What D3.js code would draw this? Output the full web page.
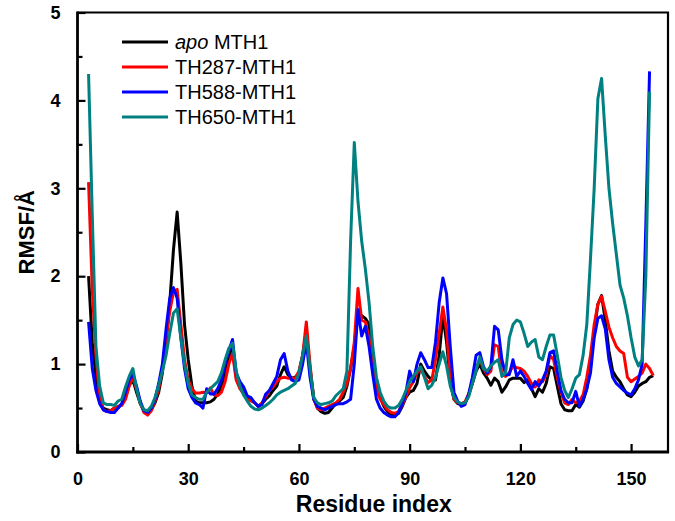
<!DOCTYPE html>
<html>
<head>
<meta charset="utf-8">
<script src="https://cdn.jsdelivr.net/npm/d3@7"></script>
<style>
  html, body { margin: 0; padding: 0; background: #fff; }
  svg { display: block; }
</style>
</head>
<body>
<svg id="chart" width="675" height="521"></svg>
<script>
// ---- data ----
const seriesNames = ["apo MTH1", "TH287-MTH1", "TH588-MTH1", "TH650-MTH1"];
const seriesColors = ["#000000", "#ff0000", "#0000ff", "#008080"];
const firstResidue = 3;

const apoMTH1 = [
  2.0, 1.25, 0.85, 0.58, 0.5, 0.48, 0.47, 0.5, 0.5, 0.55,
  0.62, 0.76, 0.82, 0.68, 0.55, 0.47, 0.45, 0.48, 0.56, 0.68,
  0.9, 1.25, 1.7, 2.3, 2.73, 2.15, 1.45, 1.05, 0.75, 0.58,
  0.56, 0.56, 0.56, 0.57, 0.6, 0.66, 0.75, 0.9, 1.05, 1.18,
  0.85, 0.75, 0.7, 0.62, 0.6, 0.56, 0.52, 0.55, 0.6, 0.64,
  0.7, 0.75, 0.88, 0.97, 0.88, 0.84, 0.85, 0.9, 1.1, 1.35,
  0.95, 0.62, 0.5, 0.46, 0.44, 0.45, 0.5, 0.55, 0.58, 0.62,
  0.75, 0.95, 1.2, 1.6, 1.55, 1.52, 1.45, 1.05, 0.78, 0.62,
  0.52, 0.46, 0.43, 0.42, 0.44, 0.52, 0.62, 0.68, 0.7, 0.78,
  1.0, 0.92, 0.86, 0.82, 0.82, 1.1, 1.55, 1.25, 0.8, 0.6,
  0.55, 0.54, 0.56, 0.65, 0.78, 0.92, 1.0, 0.9, 0.84, 0.76,
  0.84, 0.8, 0.68, 0.74, 0.82, 0.84, 0.84, 0.84, 0.79, 0.82,
  0.72, 0.63, 0.72, 0.68, 0.78, 0.97, 0.95, 0.75, 0.55, 0.48,
  0.47, 0.47, 0.54, 0.51, 0.58, 0.72, 1.0, 1.38, 1.68, 1.78,
  1.5, 1.15, 0.92, 0.85, 0.8, 0.72, 0.65, 0.63, 0.68, 0.75,
  0.78, 0.8, 0.85, 0.87
];

const th287 = [
  3.07, 1.85, 1.1, 0.62, 0.48, 0.46, 0.47, 0.5, 0.52, 0.53,
  0.6, 0.75, 0.85, 0.72, 0.56, 0.45, 0.42, 0.47, 0.58, 0.72,
  0.95, 1.3, 1.6, 1.82, 1.85, 1.45, 1.05, 0.82, 0.72, 0.67,
  0.67, 0.68, 0.67, 0.73, 0.65, 0.64, 0.68, 0.8, 1.0, 1.12,
  0.82, 0.72, 0.66, 0.6, 0.58, 0.56, 0.52, 0.56, 0.63, 0.7,
  0.74, 0.8, 0.84, 0.85, 0.84, 0.84, 0.84, 0.92, 1.1, 1.48,
  1.0, 0.6, 0.5, 0.48, 0.5, 0.52, 0.54, 0.56, 0.6, 0.68,
  0.78, 0.95, 1.25, 1.86, 1.5, 1.48, 1.3, 0.95, 0.72, 0.6,
  0.54, 0.48, 0.45, 0.44, 0.46, 0.54, 0.63, 0.73, 0.8, 0.9,
  0.95, 0.86, 0.79, 0.82, 1.05, 1.35, 1.65, 1.38, 0.85, 0.6,
  0.56, 0.55, 0.57, 0.66, 0.8, 0.95, 1.05, 0.95, 0.88, 0.92,
  1.22, 1.2, 0.88, 0.86, 0.9, 0.98, 0.96, 0.95, 0.92, 0.86,
  0.78, 0.74, 0.82, 0.8, 0.88, 1.1, 1.05, 0.85, 0.68, 0.56,
  0.54, 0.6, 0.56, 0.58, 0.65, 0.85, 1.1, 1.45, 1.68, 1.77,
  1.6, 1.42, 1.3, 1.2, 1.15, 1.12, 0.85, 0.8, 0.83, 0.86,
  0.9, 1.0, 0.95, 0.87
];

const th588 = [
  1.48, 0.95, 0.7, 0.55, 0.48, 0.46, 0.45, 0.45, 0.5, 0.55,
  0.68, 0.82, 0.89, 0.75, 0.58, 0.47, 0.45, 0.5, 0.6, 0.78,
  1.0, 1.4, 1.75, 1.87, 1.75, 1.3, 0.95, 0.72, 0.62, 0.56,
  0.54, 0.5, 0.72, 0.66, 0.66, 0.72, 0.82, 1.0, 1.15, 1.28,
  0.9, 0.8, 0.74, 0.64, 0.62, 0.56, 0.52, 0.54, 0.66, 0.7,
  0.78, 0.86, 1.05, 1.12, 0.92, 0.82, 0.8, 0.82, 1.0, 1.25,
  0.85, 0.6, 0.52, 0.5, 0.48, 0.5, 0.52, 0.54, 0.55, 0.55,
  0.57, 0.6, 1.0, 1.62, 1.32, 1.43, 1.2, 0.88, 0.6, 0.5,
  0.45, 0.42, 0.4, 0.4, 0.45, 0.55, 0.68, 0.92, 0.8, 1.0,
  1.13, 1.05, 0.96, 0.96, 1.25, 1.7, 1.98, 1.8, 1.2, 0.68,
  0.58, 0.52, 0.54, 0.66, 0.85, 1.1, 1.13, 0.97, 0.9, 0.97,
  1.43, 1.39, 1.05, 0.88, 0.88, 1.05, 0.86, 0.92, 0.86, 0.78,
  0.71, 0.8, 0.75, 0.82, 0.92, 1.13, 1.15, 0.92, 0.7, 0.6,
  0.56, 0.56, 0.69, 0.52, 0.6, 0.72, 0.9, 1.3, 1.52, 1.55,
  1.4, 1.05, 0.85, 0.78, 0.74, 0.7, 0.67, 0.65, 0.72, 0.82,
  1.0, 2.6, 4.33
];

const th650 = [
  4.3, 2.7, 1.2, 0.75, 0.56, 0.54, 0.54, 0.53, 0.58, 0.6,
  0.74, 0.86, 0.95, 0.72, 0.55, 0.48, 0.47, 0.52, 0.62, 0.76,
  0.92, 1.1, 1.35, 1.58, 1.63, 1.3, 1.0, 0.78, 0.65, 0.62,
  0.6, 0.6, 0.68, 0.72, 0.76, 0.8, 0.9, 1.05, 1.18, 1.24,
  0.92, 0.75, 0.65, 0.58, 0.52, 0.49, 0.48, 0.5, 0.53, 0.56,
  0.6, 0.65, 0.68, 0.7, 0.72, 0.75, 0.78, 0.9, 1.1, 1.32,
  0.95, 0.62, 0.56, 0.54, 0.55, 0.56, 0.58, 0.64, 0.68, 0.72,
  0.92, 2.4, 3.52, 2.85, 2.4, 2.08, 1.7, 1.2, 0.85, 0.68,
  0.58, 0.52, 0.5, 0.5, 0.53, 0.6, 0.7, 0.8, 0.86, 0.92,
  0.97, 0.85, 0.72, 0.76, 0.85, 1.0, 1.14, 0.98, 0.75, 0.62,
  0.57, 0.55, 0.56, 0.63, 0.78, 0.93, 1.08, 0.95, 0.92, 0.98,
  1.02, 1.05, 0.86, 0.9, 1.3, 1.45, 1.5, 1.48, 1.35, 1.2,
  1.25, 1.28, 1.08, 1.05, 1.2, 1.33, 1.33, 1.1, 0.85, 0.7,
  0.62, 0.72, 0.84, 0.88, 1.1, 1.45, 2.2, 3.0, 4.02, 4.25,
  3.6, 3.0, 2.6, 2.25, 1.9, 1.75, 1.55, 1.3, 1.08, 0.98,
  1.05, 2.0, 4.1
];

const xMajorTicks = [0, 30, 60, 90, 120, 150];
const xMinorTicks = [15, 45, 75, 105, 135];
const yMajorTicks = [0, 1, 2, 3, 4, 5];
const yMinorTicks = [0.5, 1.5, 2.5, 3.5, 4.5];

const allSeries = [apoMTH1, th287, th588, th650];

// ---- layout ----
const svg = d3.select("#chart");
const L = 77.5, R = 668, T = 12.5, B = 452;
const x = d3.scaleLinear().domain([0, 160]).range([L, R]);
const y = d3.scaleLinear().domain([0, 5]).range([B, T]);

const font = "Arial, 'Liberation Sans', sans-serif";

// lines
const line = d3.line()
  .x((d, i) => x(firstResidue + i))
  .y(d => y(d));

const lg = svg.append("g");
allSeries.forEach((vals, k) => {
  lg.append("path")
    .datum(vals)
    .attr("d", line)
    .attr("fill", "none")
    .attr("stroke", seriesColors[k])
    .attr("stroke-width", 3)
    .attr("stroke-linejoin", "round")
    .attr("stroke-linecap", "butt");
});

// frame (top/right)
svg.append("path")
  .attr("d", `M${L},${T}H${R}V${B}`)
  .attr("fill", "none")
  .attr("stroke", "#000")
  .attr("stroke-width", 2.2);

// x axis
const xAxis = d3.axisBottom(x).tickValues(xMajorTicks).tickSizeInner(-8).tickSizeOuter(0).tickPadding(20)
  .tickFormat(d3.format("d"));
const gx = svg.append("g").attr("transform", `translate(0,${B})`).call(xAxis);
gx.select(".domain").attr("stroke-width", 2.8).attr("d", `M${L - 1.4},0H${R + 1.1}`);
gx.selectAll(".tick line").attr("stroke-width", 2.2);
gx.selectAll(".tick text")
  .attr("font-family", font).attr("font-weight", "bold").attr("font-size", 18).attr("fill", "#000");
const gxm = svg.append("g").attr("transform", `translate(0,${B})`)
  .call(d3.axisBottom(x).tickValues(xMinorTicks).tickSizeInner(-5).tickSizeOuter(0).tickFormat(""));
gxm.select(".domain").remove();
gxm.selectAll(".tick line").attr("stroke-width", 2.2);

// y axis
const yAxis = d3.axisLeft(y).tickValues(yMajorTicks).tickSizeInner(-8).tickSizeOuter(0).tickPadding(17)
  .tickFormat(d3.format("d"));
const gy = svg.append("g").attr("transform", `translate(${L},0)`).call(yAxis);
gy.select(".domain").attr("stroke-width", 2.8).attr("d", `M0,${T - 1.1}V${B + 1.4}`);
gy.selectAll(".tick line").attr("stroke-width", 2.2);
gy.selectAll(".tick text")
  .attr("font-family", font).attr("font-weight", "bold").attr("font-size", 18).attr("fill", "#000");
const gym = svg.append("g").attr("transform", `translate(${L},0)`)
  .call(d3.axisLeft(y).tickValues(yMinorTicks).tickSizeInner(-5).tickSizeOuter(0).tickFormat(""));
gym.select(".domain").remove();
gym.selectAll(".tick line").attr("stroke-width", 2.2);

// axis titles
svg.append("text")
  .attr("x", (L + R) / 2 + 1).attr("y", 512)
  .attr("text-anchor", "middle")
  .attr("font-family", font).attr("font-weight", "bold").attr("font-size", 23)
  .text("Residue index");

svg.append("text")
  .attr("transform", `translate(34,${(T + B) / 2}) rotate(-90)`)
  .attr("text-anchor", "middle")
  .attr("font-family", font).attr("font-weight", "bold").attr("font-size", 22)
  .text("RMSF/Å");

// legend
const legend = svg.append("g");
const legY0 = 42, legDy = 25;
seriesNames.forEach((name, k) => {
  const yy = legY0 + k * legDy;
  legend.append("line")
    .attr("x1", 122).attr("x2", 168).attr("y1", yy).attr("y2", yy)
    .attr("stroke", seriesColors[k]).attr("stroke-width", 3);
  const t = legend.append("text")
    .attr("x", 175).attr("y", yy + 7)
    .attr("font-family", font).attr("font-size", 20).attr("fill", "#000");
  if (k === 0) {
    t.append("tspan").attr("font-style", "italic").text("apo");
    t.append("tspan").text(" MTH1");
  } else {
    t.text(name);
  }
});
</script>
</body>
</html>
